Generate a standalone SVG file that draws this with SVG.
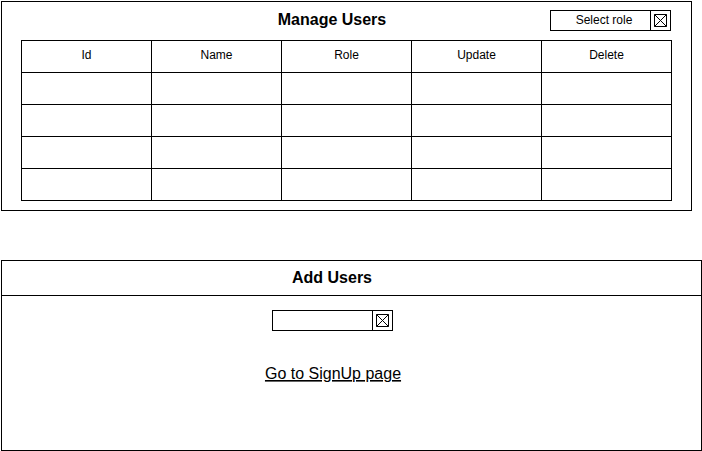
<svg xmlns="http://www.w3.org/2000/svg" width="702" height="451" viewBox="0 0 702 451">
<style>
.b{fill:#fff;stroke:#000;stroke-width:1}
.t{font-family:"Liberation Sans",Arial,sans-serif;font-size:12px;fill:#000;text-anchor:middle}
.h{font-family:"Liberation Sans",Arial,sans-serif;font-size:16px;font-weight:bold;fill:#000;text-anchor:middle}
.l{font-family:"Liberation Sans",Arial,sans-serif;font-size:16px;fill:#000;text-anchor:middle;text-decoration:underline}
.x{stroke:#000;stroke-width:1;fill:none}
</style>
<rect width="702" height="451" fill="#fff"/>
<g id="manage-users">
<rect class="b" x="1.5" y="1.5" width="690" height="209"/>
<text class="h" x="332" y="25">Manage Users</text>
</g>
<g id="select-role">
<rect class="b" x="550.5" y="10.5" width="100" height="20"/>
<text class="t" x="604" y="24">Select role</text>
<rect class="b" x="650.5" y="10.5" width="20" height="20"/>
<path class="x" d="M654.5 14.5h12v12h-12zM654.5 14.5l12 12M666.5 14.5l-12 12"/>
</g>
<g id="users-table">
<rect class="b" x="21.5" y="40.5" width="650" height="160"/>
<path class="x" d="M151.5 40.5v160M281.5 40.5v160M411.5 40.5v160M541.5 40.5v160M21.5 72.5h650M21.5 104.5h650M21.5 136.5h650M21.5 168.5h650"/>
<text class="t" x="86.5" y="59">Id</text>
<text class="t" x="216.5" y="59">Name</text>
<text class="t" x="346.5" y="59">Role</text>
<text class="t" x="476.5" y="59">Update</text>
<text class="t" x="606.5" y="59">Delete</text>
</g>
<g id="add-users">
<rect class="b" x="1.5" y="260.5" width="700" height="190"/>
<path class="x" d="M1.5 295.5h700"/>
<text class="h" x="332" y="283">Add Users</text>
</g>
<g id="role-input">
<rect class="b" x="272.5" y="310.5" width="100" height="20"/>
<rect class="b" x="372.5" y="310.5" width="20" height="20"/>
<path class="x" d="M376.5 314.5h12v12h-12zM376.5 314.5l12 12M388.5 314.5l-12 12"/>
</g>
<g id="signup-link">
<text class="l" x="333" y="379">Go to SignUp page</text>
</g>
<g id="connectors"/>
</svg>
